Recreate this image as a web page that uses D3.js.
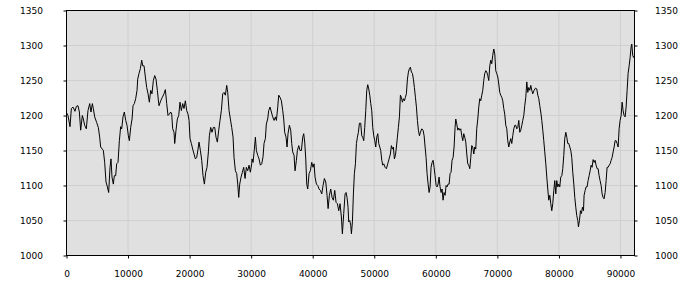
<!DOCTYPE html>
<html>
<head>
<meta charset="utf-8">
<script src="https://cdn.jsdelivr.net/npm/d3@7"></script>
<style>
  html, body { margin: 0; padding: 0; background: #ffffff; }
  svg { display: block; }
  .tick text { font-family: "DejaVu Sans", sans-serif; font-size: 9px; fill: #000; }
</style>
</head>
<body>
<svg id="chart" width="700" height="300"></svg>
<script>
const xTicks = [0, 10000, 20000, 30000, 40000, 50000, 60000, 70000, 80000, 90000];
const yTicks = [1000, 1050, 1100, 1150, 1200, 1250, 1300, 1350];
const xDomain = [0, 92280];
const yDomain = [1000, 1350];

const xValues = [
0,240,570,790,1060,1380,1600,1870,2090,2300,2570,2740,2950,3220,3490,3770,3980,4200,4360,4580,
4900,5170,5390,5550,5820,5990,6200,6420,6640,6850,7070,7230,7390,7610,7770,7990,8150,8370,8590,8800,
8970,9180,9400,9620,9830,10050,10210,10430,10650,10810,11020,11240,11460,11570,11780,12000,12220,12380,12600,12810,
13030,13250,13460,13680,13890,14110,14330,14540,14760,14980,
15030,15300,15570,15840,16060,16280,16490,16710,16930,17090,17250,17470,17580,17790,18010,18230,18440,18660,18880,19090,
19310,19530,19740,19910,20070,20290,20500,20720,20940,21150,21370,21530,21750,21970,22180,22400,22620,22830,23050,23210,
23430,23640,23860,24080,24290,24510,24730,24940,25160,25380,25590,25810,26030,26190,26410,26620,26840,27060,27220,27440,
27650,27820,27980,28140,28360,28570,28790,29010,29220,29440,29660,29870,30090,
30140,30310,30520,30690,30850,31070,31280,31500,31720,31930,32090,32310,32470,32690,32850,33070,33290,33500,33720,33940,
34100,34320,34480,34690,34910,35130,35290,35450,35670,35830,35990,36210,36430,36590,36750,36970,37130,37350,37510,37730,
37940,38160,38380,38540,38700,38870,39030,39190,39410,39620,39840,40060,40220,40380,40600,40820,41030,41250,41470,41680,
41900,42120,42330,42500,42710,42930,43140,43360,43580,43790,44010,44230,44440,44660,44820,45040,45260,
45420,45580,45740,45850,46020,46180,46290,46450,46610,46770,46940,47100,47260,47420,47590,47800,47970,48130,48290,48450,
48620,48780,48940,49100,49270,49430,49590,49750,49920,50080,50240,50400,50570,50730,50890,51050,51220,51380,51540,51760,
51970,52190,52410,52620,52790,52950,53110,53270,53440,53600,53760,53920,54090,54250,54410,54570,54740,54900,55060,55220,
55390,55550,55710,55870,56040,56200,56360,56520,56690,56850,57010,57170,57340,57500,57720,57930,58100,58260,58420,58580,
58750,58910,59070,59230,59400,59560,59720,59880,60050,60210,60370,60530,
60690,60860,61020,61180,61340,61510,61670,61830,61990,62160,62320,62480,62640,62810,62970,63130,63240,63400,63570,63730,
63890,64050,64220,64380,64540,64700,64870,65030,65190,65350,65520,65680,65840,66000,66170,66330,66490,66650,66820,66980,
67140,67300,67470,67630,67790,67950,68120,68280,68440,68600,68770,68930,69090,69250,69420,69580,69740,69900,70070,70230,
70390,70550,70720,70880,71040,71200,71370,71530,71690,71850,72020,72180,72340,72500,72670,72830,72990,73150,73320,73480,
73640,73800,73970,74130,74290,74450,74620,74780,74940,75100,75270,75430,75590,75750,
75970,76190,76400,76570,76730,76890,77050,77220,77380,77540,77700,77870,78030,78190,78350,78520,78680,78840,79000,79170,
79330,79490,79650,79820,79980,80140,80300,80470,80630,80790,80950,81120,81280,81440,81600,81770,81930,82090,82250,82420,
82580,82740,82900,83070,83170,83340,83500,83660,83820,83990,84090,84260,84420,84580,84740,84910,85070,85230,85390,85560,
85720,85880,86040,86210,86370,86530,86690,86860,87020,87180,87340,87510,87670,87830,87990,88160,88320,88480,88640,88810,
88970,89130,89290,89460,89620,89780,89940,90110,90270,90430,90590,90760,90920,91080,91240,91410,91570,91730,91840,91990,
92120,92280
];

const yValues = [
1204,1200,1184,1210,1212,1206,1213,1214,1205,1179,1200,1195,1186,1181,1207,1217,1205,1217,1210,1198,
1190,1183,1169,1155,1152,1150,1133,1105,1098,1090,1126,1138,1112,1102,1114,1114,1131,1133,1164,1184,
1181,1198,1205,1193,1186,1171,1164,1183,1195,1214,1217,1224,1236,1252,1260,1267,1279,1271,1271,1255,
1240,1231,1219,1236,1231,1250,1257,1252,1236,1217,
1214,1221,1226,1231,1237,1217,1200,1202,1205,1202,1181,1176,1160,1179,1195,1200,1219,1207,1217,1210,
1221,1207,1202,1193,1167,1160,1152,1145,1138,1140,1152,1162,1150,1136,1114,1102,1119,1126,1148,1171,
1183,1176,1183,1183,1169,1162,1179,1193,1207,1231,1233,1229,1243,1233,1207,1195,1183,1169,1140,1121,
1117,1102,1083,1102,1112,1119,1126,1110,1126,1121,1129,1119,1131,
1138,1133,1152,1169,1150,1143,1138,1129,1131,1141,1160,1167,1188,1195,1207,1212,1205,1198,1193,1198,
1193,1212,1229,1226,1221,1207,1195,1176,1169,1155,1174,1186,1179,1160,1148,1143,1121,1136,1150,1157,
1150,1150,1169,1174,1162,1138,1102,1095,1117,1121,1133,1126,1131,1112,1102,1100,1095,1093,1088,1100,
1110,1105,1086,1067,1086,1095,1083,1079,1093,1076,1074,1064,1074,1055,1031,1060,1088,
1090,1083,1069,1048,1050,1043,1031,1048,1088,1117,1131,1160,1169,1176,1189,1189,1171,1169,1164,1183,
1207,1236,1244,1238,1229,1217,1207,1183,1171,1164,1155,1169,1174,1160,1155,1150,1136,1129,1131,1126,
1124,1131,1138,1145,1157,1152,1155,1138,1143,1155,1169,1183,1198,1229,1226,1219,1224,1221,1226,1231,
1252,1262,1267,1269,1262,1260,1252,1240,1226,1212,1193,1179,1171,1176,1181,1179,1171,1155,1140,1117,
1102,1090,1098,1126,1133,1136,1126,1114,1100,1098,1102,1112,
1098,1090,1095,1079,1090,1086,1100,1098,1102,1102,1117,1119,1136,1140,1155,1183,1195,1188,1179,1182,
1179,1181,1171,1164,1174,1169,1162,1145,1131,1129,1124,1140,1157,1155,1145,1155,1152,1181,1195,1212,
1224,1221,1229,1236,1250,1260,1264,1262,1257,1250,1271,1279,1274,1286,1295,1288,1264,1260,1255,1245,
1233,1229,1226,1221,1210,1202,1186,1181,1164,1155,1162,1167,1160,1171,1181,1186,1186,1181,1183,1193,
1176,1179,1186,1193,1200,1214,1226,1248,1233,1240,1236,1243,1236,1231,
1236,1239,1238,1229,1224,1214,1205,1193,1179,1164,1148,1131,1112,1095,1079,1086,1074,1064,1074,1093,
1107,1088,1107,1098,1102,1098,1112,1114,1124,1143,1167,1176,1169,1160,1160,1155,1150,1140,1119,1102,
1083,1069,1057,1050,1041,1050,1064,1060,1069,1064,1086,1093,1098,1098,1107,1114,1121,1129,1126,1137,
1133,1136,1129,1124,1124,1114,1107,1100,1088,1083,1081,1090,1107,1126,1126,1129,1131,1136,1140,1148,
1155,1164,1164,1160,1155,1181,1193,1200,1219,1207,1200,1198,1212,1236,1260,1271,1283,1298,1302,1286,
1283,1285
];

const data = xValues.map((x, i) => ({ x: x, y: yValues[i] }));

const svg = d3.select("#chart");
const x = d3.scaleLinear().domain(xDomain).range([66.5, 634.5]);
const y = d3.scaleLinear().domain(yDomain).range([255.5, 10.5]);

// background
svg.append("rect")
  .attr("x", x(xDomain[0])).attr("y", y(yDomain[1]))
  .attr("width", x(xDomain[1]) - x(xDomain[0]))
  .attr("height", y(yDomain[0]) - y(yDomain[1]))
  .attr("fill", "#e0e0e0");

// grid
svg.append("g").selectAll("line").data(xTicks.filter(t => t > xDomain[0]))
  .join("line")
  .attr("x1", d => x(d)).attr("x2", d => x(d))
  .attr("y1", y(yDomain[0])).attr("y2", y(yDomain[1]))
  .attr("stroke", "#cfcfcf").attr("stroke-width", 1);
svg.append("g").selectAll("line").data(yTicks.filter(t => t > yDomain[0] && t < yDomain[1]))
  .join("line")
  .attr("x1", x(xDomain[0])).attr("x2", x(xDomain[1]))
  .attr("y1", d => y(d)).attr("y2", d => y(d))
  .attr("stroke", "#cfcfcf").attr("stroke-width", 1);

// clip
svg.append("clipPath").attr("id", "clip").append("rect")
  .attr("x", x(xDomain[0])).attr("y", y(yDomain[1]))
  .attr("width", x(xDomain[1]) - x(xDomain[0]))
  .attr("height", y(yDomain[0]) - y(yDomain[1]));

// line
const line = d3.line().x(d => x(d.x)).y(d => y(d.y));
svg.append("path")
  .datum(data)
  .attr("clip-path", "url(#clip)")
  .attr("fill", "none")
  .attr("stroke", "#000")
  .attr("stroke-width", 1)
  .attr("stroke-linejoin", "miter")
  .attr("d", line);

// frame
svg.append("rect")
  .attr("x", x(xDomain[0])).attr("y", y(yDomain[1]))
  .attr("width", x(xDomain[1]) - x(xDomain[0]))
  .attr("height", y(yDomain[0]) - y(yDomain[1]))
  .attr("fill", "none").attr("stroke", "#000").attr("stroke-width", 1);

// axes
const gLeft = svg.append("g").attr("transform", `translate(${x(xDomain[0])},0)`)
  .call(d3.axisLeft(y).tickValues(yTicks).tickFormat(d3.format("d")).tickSize(3).tickPadding(20.5));
const gRight = svg.append("g").attr("transform", `translate(${x(xDomain[1])},0)`)
  .call(d3.axisRight(y).tickValues(yTicks).tickFormat(d3.format("d")).tickSize(3).tickPadding(17.5));
const gBottom = svg.append("g").attr("transform", `translate(0,${y(yDomain[0])})`)
  .call(d3.axisBottom(x).tickValues(xTicks).tickFormat(d3.format("d")).tickSize(3).tickPadding(12));

[gLeft, gRight, gBottom].forEach(g => {
  g.select(".domain").remove();
  g.selectAll(".tick line").attr("stroke", "#000");
  g.attr("font-family", null).attr("font-size", null);
});
</script>
</body>
</html>
